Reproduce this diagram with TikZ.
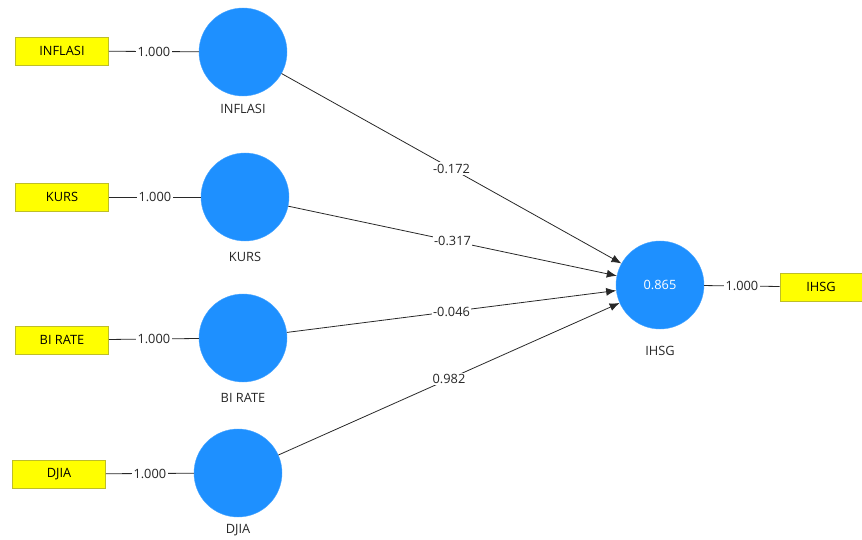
\documentclass[tikz,border=0pt]{standalone}
\usepackage{fontspec}
\setmainfont{Open Sans}
\usetikzlibrary{arrows.meta}
\definecolor{lvblue}{RGB}{30,144,255}
\definecolor{mvyellow}{RGB}{255,255,0}
\definecolor{mvborder}{RGB}{190,190,40}
\definecolor{linegray}{RGB}{40,40,40}
\tikzset{
  lv/.style={circle, fill=lvblue, draw=lvblue!80!white, minimum size=88pt, inner sep=0pt, text=white},
  mv/.style={rectangle, fill=mvyellow, draw=mvborder, line width=0.8pt, minimum width=93pt, minimum height=28pt, inner sep=0pt},
  lvlabel/.style={text=black!85},
  wlabel/.style={fill=white, inner sep=1.5pt, text=black!85},
  load/.style={draw=linegray, line width=0.8pt},
  path/.style={draw=linegray, line width=0.8pt, -{Latex[length=10pt,width=8pt]}},
}
\begin{document}
\begin{tikzpicture}[x=1pt,y=-1pt, font=\fontsize{12.8}{15}\selectfont]
\useasboundingbox (0,0) rectangle (862,540);
% latent variables
\node[lv] (inf) at (243,52) {};
\node[lv] (kurs) at (245,197) {};
\node[lv] (bi) at (243,338) {};
\node[lv] (djia) at (238,473) {};
\node[lv] (ihsg) at (660,285) {0.865};
% labels under circles
\node[lvlabel] (linf) at (243,109) {INFLASI};
\node[lvlabel] (lkurs) at (245,257) {KURS};
\node[lvlabel] (lbi) at (243,398) {BI RATE};
\node[lvlabel] (ldjia) at (238,530) {DJIA};
\node[lvlabel] (lihsg) at (660,351) {IHSG};
% indicators
\node[mv] (minf) at (62,51) {INFLASI};
\node[mv] (mkurs) at (62,197) {KURS};
\node[mv] (mbi) at (62,340) {BI RATE};
\node[mv] (mdjia) at (59,474) {DJIA};
\node[mv, minimum width=82pt] (mihsg) at (821,287) {IHSG};
% loadings
\draw[load] (minf) -- node[wlabel] {1.000} (inf);
\draw[load] (mkurs) -- node[wlabel] {1.000} (kurs);
\draw[load] (mbi) -- node[wlabel] {1.000} (bi);
\draw[load] (mdjia) -- node[wlabel] {1.000} (djia);
\draw[load] (ihsg) -- node[wlabel] {1.000} (mihsg);
% path coefficients
\draw[path] (inf) -- node[wlabel] {-0.172} (ihsg);
\draw[path] (kurs) -- node[wlabel] {-0.317} (ihsg);
\draw[path] (bi) -- node[wlabel] {-0.046} (ihsg);
\draw[path] (djia) -- node[wlabel] {0.982} (ihsg);
\end{tikzpicture}
\end{document}
